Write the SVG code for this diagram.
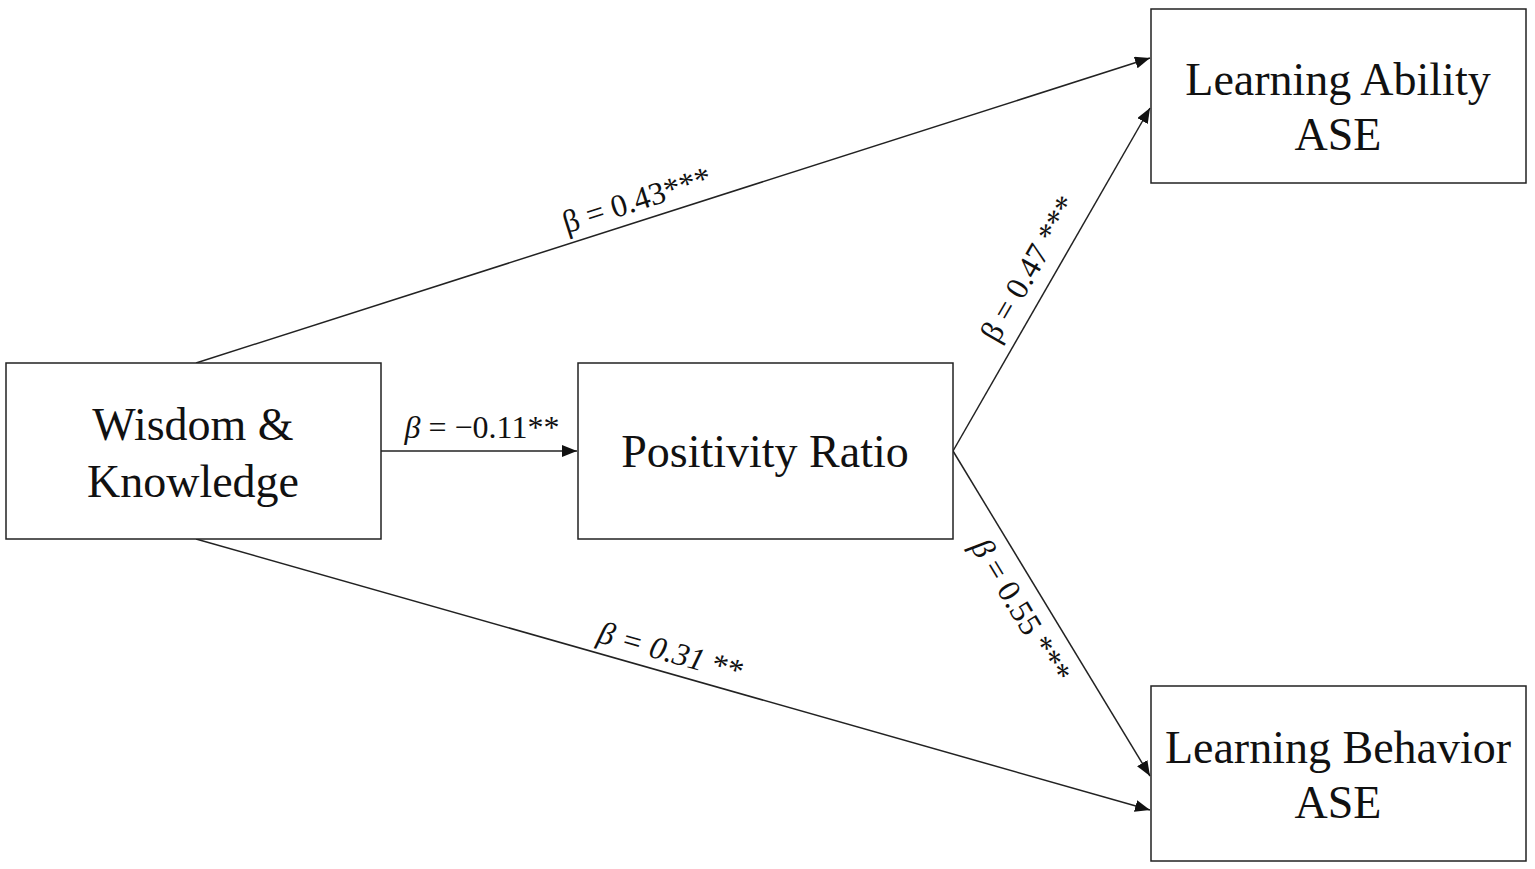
<svg xmlns="http://www.w3.org/2000/svg" width="1535" height="869" viewBox="0 0 1535 869">
<style>
.box{fill:#fff;stroke:#222;stroke-width:1.5}
.nt{font-family:"Liberation Serif","Times New Roman",serif;font-size:46px;fill:#111;text-anchor:middle}
.lb{font-family:"Liberation Serif","Times New Roman",serif;font-size:32px;fill:#111;text-anchor:middle}
.ln{stroke:#222;stroke-width:1.5;fill:none;marker-end:url(#ah)}
</style>
<defs>
<marker id="ah" markerUnits="userSpaceOnUse" markerWidth="16" markerHeight="12" refX="15" refY="6" orient="auto">
<path d="M0,0 L15,6 L0,12 Z" fill="#111"/>
</marker>
</defs>
<rect width="1535" height="869" fill="#fff"/>
<g id="connectors">
<line class="ln" x1="196" y1="363" x2="1150" y2="58"/>
<line class="ln" x1="381" y1="451" x2="577" y2="451"/>
<line class="ln" x1="953" y1="451" x2="1150" y2="108"/>
<line class="ln" x1="953" y1="451" x2="1150" y2="776"/>
<line class="ln" x1="196" y1="539" x2="1150" y2="810"/>
</g>
<g id="labels">
<text class="lb" transform="translate(640,210) rotate(-17.7)">β = 0.43***</text>
<text class="lb" x="482" y="438"><tspan font-style="italic">β</tspan> = −0.11**</text>
<text class="lb" transform="translate(1038,274) rotate(-60)">β = 0.47 ***</text>
<text class="lb" transform="translate(1012,616) rotate(58.8)"><tspan font-style="italic">β</tspan> = 0.55 ***</text>
<text class="lb" transform="translate(668,662) rotate(15.7)"><tspan font-style="italic">β = 0.31</tspan> **</text>
</g>
<g id="wisdom">
<rect class="box" x="6" y="363" width="375" height="176"/>
<text class="nt" x="193" y="440">Wisdom &amp;</text>
<text class="nt" x="193" y="497">Knowledge</text>
</g>
<g id="positivity">
<rect class="box" x="578" y="363" width="375" height="176"/>
<text class="nt" x="765" y="467">Positivity Ratio</text>
</g>
<g id="ability">
<rect class="box" x="1151" y="9" width="375" height="174"/>
<text class="nt" x="1338" y="95">Learning Ability</text>
<text class="nt" x="1338" y="150">ASE</text>
</g>
<g id="behavior">
<rect class="box" x="1151" y="686" width="375" height="175"/>
<text class="nt" x="1338" y="763">Learning Behavior</text>
<text class="nt" x="1338" y="818">ASE</text>
</g>
</svg>
